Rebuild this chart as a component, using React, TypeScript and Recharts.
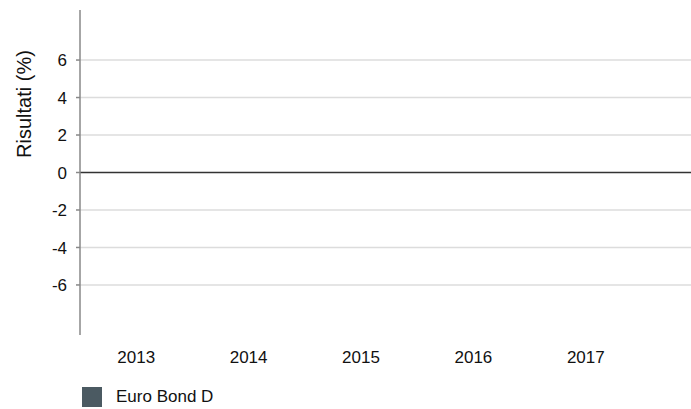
import React from 'react';
import {
  BarChart, Bar, XAxis, YAxis, ReferenceLine, Legend,
} from 'recharts';

// Years shown on the x axis; the fund has no reported results yet
const YEARS = ['2013', '2014', '2015', '2016', '2017'];
const RESULTS: (number | null)[] = [null, null, null, null, null];
const Y_TICKS = [-6, -4, -2, 0, 2, 4, 6];
const SERIES_NAME = 'Euro Bond D';

const data = YEARS.map((year, i) => ({ year, value: RESULTS[i] }));

const FONT = '"Liberation Sans", Arial, sans-serif';
const BAR_COLOR = '#4b5a62';

function LegendBox() {
  return (
    <div style={{ display: 'flex', alignItems: 'center', height: 24, paddingLeft: 82, fontFamily: FONT, fontSize: 17, color: '#111' }}>
      <span style={{ width: 20, height: 20, background: BAR_COLOR, display: 'inline-block', marginRight: 14 }} />
      <span>{SERIES_NAME}</span>
    </div>
  );
}

export default function App() {
  return (
    <div style={{ position: 'absolute', left: 0, top: 0, width: 691, height: 409, background: '#fff' }}>
      <BarChart width={691} height={409} data={data} margin={{ top: 10, right: 0, bottom: 0, left: 0 }}>
        <XAxis
          dataKey="year"
          axisLine={false}
          tickLine={false}
          tickMargin={10}
          height={50}
          padding={{ left: 0, right: 49 }}
          tick={{ fontSize: 17, fill: '#111', fontFamily: FONT }}
        />
        <YAxis
          width={80}
          type="number"
          domain={[-8.67, 8.67]}
          allowDataOverflow
          ticks={Y_TICKS}
          interval={0}
          stroke="#888"
          strokeWidth={1.5}
          tickSize={4}
          tickMargin={9}
          tick={{ fontSize: 17, fill: '#111', fontFamily: FONT }}
          label={{
            content: () => (
              <text x={24} y={104} transform="rotate(-90 24 104)" textAnchor="middle" dominantBaseline="central"
                style={{ fontSize: 20, fill: '#111', fontFamily: FONT }}>
                Risultati (%)
              </text>
            ),
          }}
        />
        {/* gridlines only at the labelled ticks, none at the plot edges */}
        {Y_TICKS.filter((t) => t !== 0).map((t) => (
          <ReferenceLine key={t} y={t} stroke="#dcdcdc" strokeWidth={1.5} ifOverflow="visible" />
        ))}
        <ReferenceLine y={0} stroke="#333" strokeWidth={1.5} ifOverflow="visible" />
        <Bar dataKey="value" name={SERIES_NAME} fill={BAR_COLOR} isAnimationActive={false} />
        <Legend verticalAlign="bottom" height={24} content={() => <LegendBox />} />
      </BarChart>
    </div>
  );
}
